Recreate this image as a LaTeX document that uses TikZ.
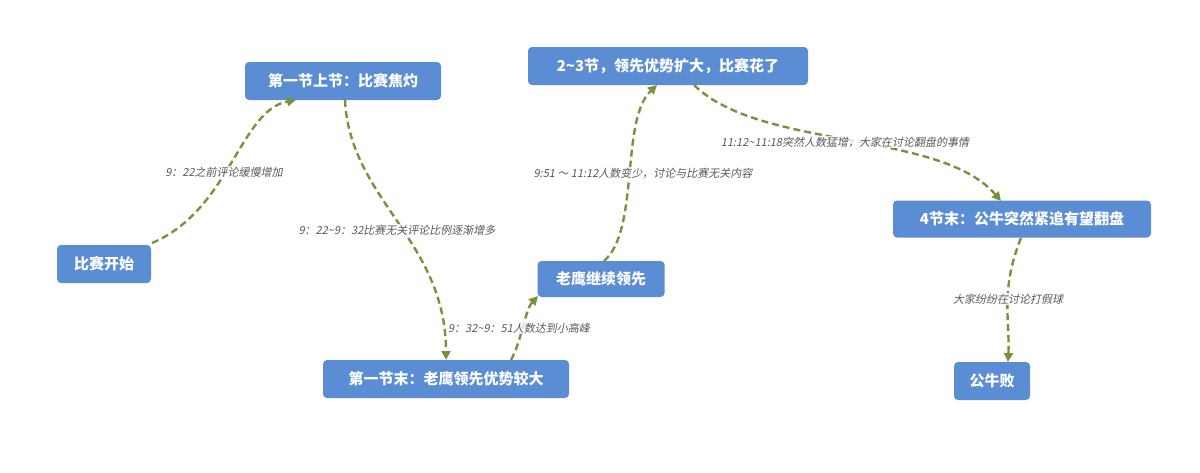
\documentclass[tikz,border=0pt]{standalone}
\usepackage{fontspec}
\setmainfont{Noto Sans CJK SC}
\newfontfamily\lblfont[FakeSlant=0.2]{Noto Sans CJK SC}
\usetikzlibrary{arrows.meta}
\definecolor{boxc}{HTML}{5B8DD5}
\definecolor{arrc}{HTML}{77933C}
\definecolor{lblc}{HTML}{595959}
\begin{document}
\begin{tikzpicture}[x=1pt,y=-1pt,
  box/.style={fill=boxc,rounded corners=4pt,text=white,font=\fontsize{15}{18}\selectfont\bfseries,inner sep=0pt,minimum height=38pt,anchor=center},
  con/.style={draw=arrc,line width=2.4pt,dash pattern=on 7pt off 4pt,-{Triangle[length=9pt,width=9pt]}},
  lbl/.style={text=lblc,font=\lblfont\fontsize{11}{13}\selectfont,fill=white,fill opacity=0.8,text opacity=1,inner sep=1pt}]
\useasboundingbox (0,0) rectangle (1200,472);
\node[box,minimum width=94pt] (a) at (104,264) {比赛开始};
\node[box,minimum width=196pt] (b) at (343,81) {第一节上节：比赛焦灼};
\node[box,minimum width=246pt] (c) at (446,379) {第一节末：老鹰领先优势较大};
\node[box,minimum width=127pt,minimum height=36pt] (d) at (601,279) {老鹰继续领先};
\node[box,minimum width=280pt] (e) at (668,66) {2\textasciitilde3节，领先优势扩大，比赛花了};
\node[box,minimum width=258pt,minimum height=37pt] (f) at (1022,219) {4节末：公牛突然紧追有望翻盘};
\node[box,minimum width=76pt] (g) at (992,381) {公牛败};
\coordinate (a1) at (152,243);
\coordinate (b1) at (296,100);
\coordinate (b2) at (345,100);
\coordinate (c1) at (446,360);
\coordinate (c2) at (511,360);
\coordinate (d1) at (538,296);
\coordinate (d2) at (604,261);
\coordinate (e1) at (657,85);
\coordinate (e2) at (694,85);
\coordinate (f1) at (1001,201);
\coordinate (f2) at (1021,238);
\coordinate (g1) at (1008,362);
\draw[con] (a1) .. controls (230,210) and (240,110) .. (b1);
\draw[con] (b2) .. controls (350,200) and (446,240) .. (c1);
\draw[con] (c2) .. controls (522,340) and (525,310) .. (d1);
\draw[con] (d2) .. controls (640,230) and (620,120) .. (e1);
\draw[con] (e2) .. controls (760,150) and (940,130) .. (f1);
\draw[con] (f2) .. controls (1000,290) and (1010,320) .. (g1);
\node[lbl] (l1) at (224,172) {9：22之前评论缓慢增加};
\node[lbl] (l2) at (397,230) {9：22\textasciitilde9：32比赛无关评论比例逐渐增多};
\node[lbl] (l3) at (519,328) {9：32\textasciitilde9：51人数达到小高峰};
\node[lbl] (l4) at (643,173) {9:51 ～ 11:12人数变少，讨论与比赛无关内容};
\node[lbl] (l5) at (845,142) {11:12\textasciitilde11:18突然人数猛增，大家在讨论翻盘的事情};
\node[lbl] (l6) at (1008,299) {大家纷纷在讨论打假球};
\end{tikzpicture}
\end{document}
